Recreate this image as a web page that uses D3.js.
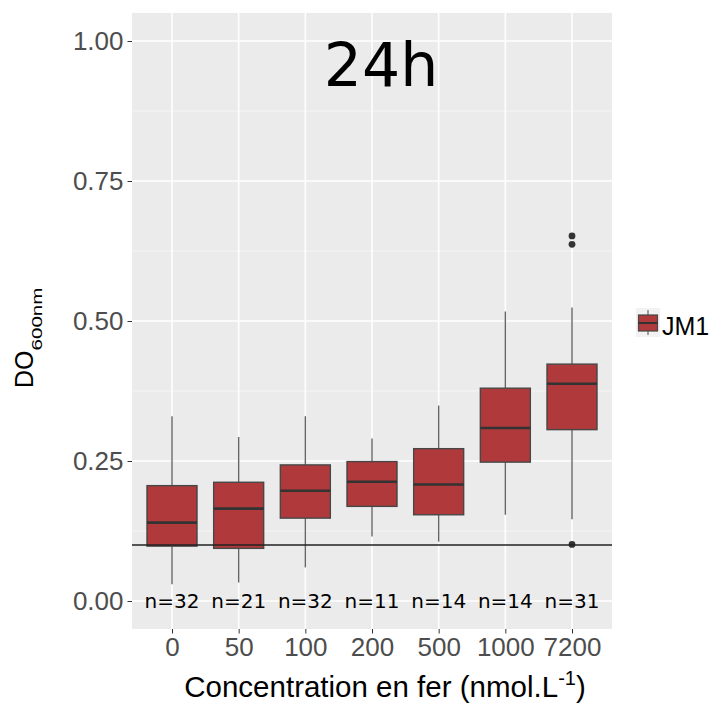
<!DOCTYPE html>
<html><head><meta charset="utf-8">
<script src="https://cdn.jsdelivr.net/npm/d3@7"></script>
<style>body{margin:0;background:#fff}svg{display:block}</style>
</head><body>
<script>
const categories = ["0","50","100","200","500","1000","7200"];
const nLabels = [32,21,32,11,14,14,31];
const whiskerLow = [0.030,0.033,0.060,0.115,0.106,0.154,0.146];
const q1 = [0.098,0.094,0.148,0.169,0.154,0.248,0.306];
const median = [0.140,0.165,0.197,0.213,0.208,0.309,0.388];
const q3 = [0.206,0.212,0.243,0.249,0.272,0.380,0.423];
const whiskerHigh = [0.330,0.293,0.330,0.290,0.349,0.517,0.524];
const outlierCats = ["7200","7200","7200"];
const outlierVals = [0.652,0.637,0.101];
const refLine = 0.1;
const yTicks = [0,0.25,0.5,0.75,1];
const yMinor = [0.125,0.375,0.625,0.875];
const seriesName = "JM1";
const title = "24h";

const W=713,H=727;
const P={l:132,r:612,t:13,b:629};
const svg=d3.select("body").append("svg").attr("width",W).attr("height",H);
const x=d3.scalePoint().domain(categories).range([P.l,P.r]).padding(0.6);
const y=d3.scaleLinear().domain([-0.05,1.05]).range([P.b,P.t]);
const boxW=x.step()*0.75;
const fill="#b0393b";

svg.append("rect").attr("x",P.l).attr("y",P.t).attr("width",P.r-P.l).attr("height",P.b-P.t).attr("fill","#ebebeb");
const g=svg.append("g");
g.selectAll(".ymin").data(yMinor).join("line").attr("x1",P.l).attr("x2",P.r).attr("y1",d=>y(d)).attr("y2",d=>y(d)).attr("stroke","#f7f7f7").attr("stroke-width",0.8);
g.selectAll(".ymaj").data(yTicks).join("line").attr("x1",P.l).attr("x2",P.r).attr("y1",d=>y(d)).attr("y2",d=>y(d)).attr("stroke","#fff").attr("stroke-width",1.6);
g.selectAll(".xmaj").data(categories).join("line").attr("x1",d=>x(d)).attr("x2",d=>x(d)).attr("y1",P.t).attr("y2",P.b).attr("stroke","#fff").attr("stroke-width",1.6);

const data=categories.map((c,i)=>({c,lo:whiskerLow[i],q1:q1[i],md:median[i],q3:q3[i],hi:whiskerHigh[i],n:nLabels[i]}));
const b=svg.append("g");
b.selectAll(".wh").data(data).join("line").attr("x1",d=>x(d.c)).attr("x2",d=>x(d.c)).attr("y1",d=>y(d.hi)).attr("y2",d=>y(d.q3)).attr("stroke","#666").attr("stroke-width",1.4);
b.selectAll(".wl").data(data).join("line").attr("x1",d=>x(d.c)).attr("x2",d=>x(d.c)).attr("y1",d=>y(d.q1)).attr("y2",d=>y(d.lo)).attr("stroke","#666").attr("stroke-width",1.4);
b.selectAll(".bx").data(data).join("rect").attr("x",d=>x(d.c)-boxW/2).attr("width",boxW).attr("y",d=>y(d.q3)).attr("height",d=>y(d.q1)-y(d.q3)).attr("fill",fill).attr("stroke","#474747").attr("stroke-width",1.4);
b.selectAll(".md").data(data).join("line").attr("x1",d=>x(d.c)-boxW/2).attr("x2",d=>x(d.c)+boxW/2).attr("y1",d=>y(d.md)).attr("y2",d=>y(d.md)).attr("stroke","#333").attr("stroke-width",2.6);
b.selectAll(".out").data(outlierVals.map((v,i)=>({c:outlierCats[i],v}))).join("circle").attr("cx",d=>x(d.c)).attr("cy",d=>y(d.v)).attr("r",3.4).attr("fill","#333");

svg.append("line").attr("x1",P.l).attr("x2",P.r).attr("y1",y(refLine)).attr("y2",y(refLine)).attr("stroke","#222").attr("stroke-width",1.5);

svg.selectAll(".nl").data(data).join("text").attr("x",d=>x(d.c)).attr("y",y(0)+7).attr("text-anchor","middle")
 .attr("font-family","DejaVu Sans").attr("font-size",20).attr("fill","#000").text(d=>"n="+d.n);

svg.append("text").attr("x",x("200")+9).attr("y",86).attr("text-anchor","middle").attr("font-family","DejaVu Sans").attr("font-size",60).attr("fill","#000").text(title);

// axes
const yAxis=d3.axisLeft(y).tickValues(yTicks).tickFormat(d3.format(".2f")).tickSize(4.5).tickPadding(4);
const ya=svg.append("g").attr("transform",`translate(${P.l},0)`).call(yAxis);
ya.select(".domain").remove();
ya.selectAll("line").attr("stroke","#333").attr("stroke-width",1);
ya.selectAll("text").attr("font-family","Liberation Sans").attr("font-size",26).attr("fill","#4d4d4d");

const xAxis=d3.axisBottom(x).tickSize(4.5).tickPadding(4);
const xa=svg.append("g").attr("transform",`translate(0,${P.b})`).call(xAxis);
xa.select(".domain").remove();
xa.selectAll("line").attr("stroke","#333").attr("stroke-width",1);
xa.selectAll("text").attr("font-family","Liberation Sans").attr("font-size",26).attr("fill","#4d4d4d");

// axis titles
const xt=svg.append("text").attr("x",385).attr("y",697).attr("text-anchor","middle").attr("font-family","Liberation Sans").attr("font-size",29.5).attr("fill","#000");
xt.append("tspan").text("Concentration en fer (nmol.L");
xt.append("tspan").attr("dy",-12).attr("font-size",20).text("-1");
xt.append("tspan").attr("dy",12).text(")");

const yt=svg.append("text").attr("transform","translate(33,388) rotate(-90)").attr("font-family","Liberation Sans").attr("font-size",25).attr("fill","#000");
yt.append("tspan").text("DO");
yt.append("tspan").attr("dy",8.5).attr("font-size",14).attr("textLength",63).attr("lengthAdjust","spacingAndGlyphs").text("600nm");

// legend
const lg=svg.append("g");
lg.append("rect").attr("x",636).attr("y",308).attr("width",24).attr("height",29).attr("fill","#f2f2f2");
lg.append("line").attr("x1",648).attr("x2",648).attr("y1",310).attr("y2",335).attr("stroke","#666").attr("stroke-width",1.2);
lg.append("rect").attr("x",638.5).attr("y",315).attr("width",19).attr("height",16).attr("fill",fill).attr("stroke","#474747").attr("stroke-width",1.2);
lg.append("line").attr("x1",638.5).attr("x2",657.5).attr("y1",323).attr("y2",323).attr("stroke","#333").attr("stroke-width",2);
lg.append("text").attr("x",662).attr("y",335).attr("font-family","Liberation Sans").attr("font-size",25).attr("fill","#000").text(seriesName);
</script>
</body></html>
